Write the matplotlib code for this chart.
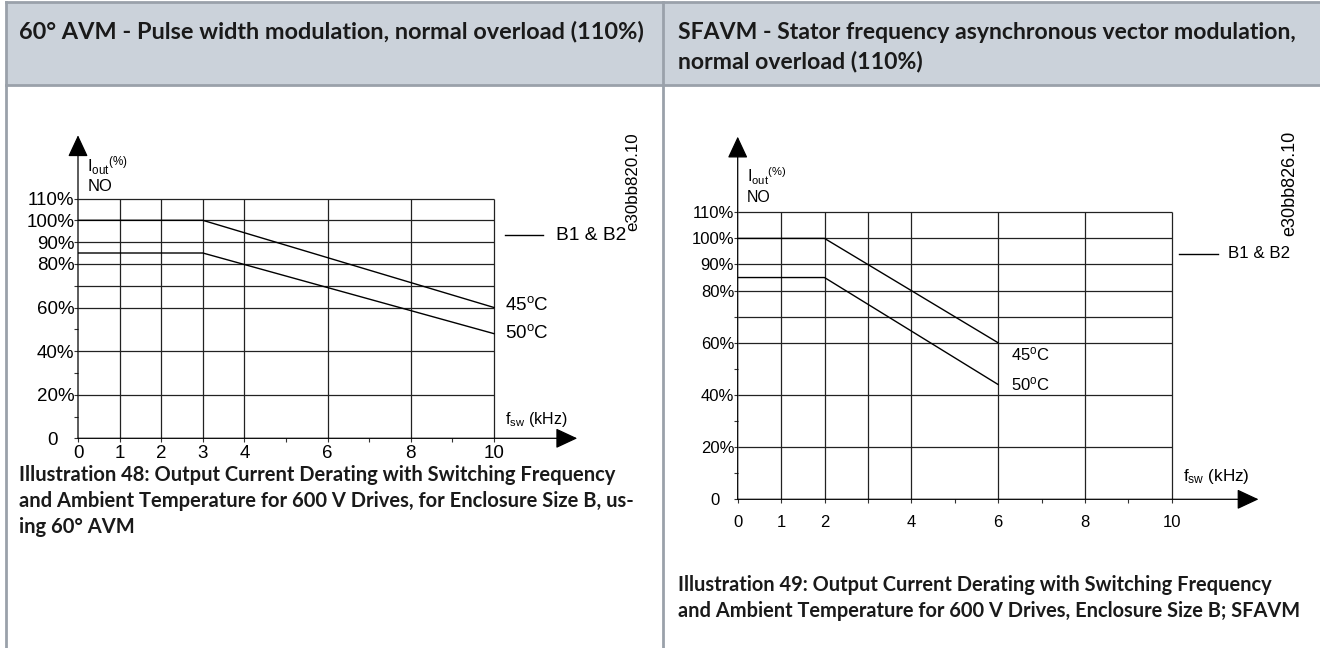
import matplotlib
matplotlib.use('Agg')
import matplotlib.pyplot as plt
from matplotlib.patches import Rectangle

plt.rcParams['font.family'] = ['Liberation Sans', 'DejaVu Sans']
plt.rcParams['mathtext.fontset'] = 'custom'
plt.rcParams['mathtext.rm'] = 'Liberation Sans'
plt.rcParams['mathtext.it'] = 'Liberation Sans:italic'

# ---- data ----
freq_avm = [0, 3, 10]
iout_45_avm = [100, 100, 60]
iout_50_avm = [85, 85, 48]

freq_sfavm = [0, 2, 6]
iout_45_sfavm = [100, 100, 60]
iout_50_sfavm = [85, 85, 44]

ytick_vals = [0, 20, 40, 60, 80, 90, 100, 110]
ytick_labels = ['0   ', '20%', '40%', '60%', '80%', '90%', '100%', '110%']
grid_y = [20, 40, 60, 70, 80, 90, 100, 110]
minor_y = [10, 30, 50, 70]
grid_x = [1, 2, 3, 4, 6, 8, 10]
xticks_avm = [0, 1, 2, 3, 4, 6, 8, 10]
minor_x_avm = [5, 7, 9]
xticks_sfavm = [0, 1, 2, 4, 6, 8, 10]
minor_x_sfavm = [3, 5, 7, 9]

headers = ['60° AVM - Pulse width modulation, normal overload (110%)',
           'SFAVM - Stator frequency asynchronous vector modulation,\nnormal overload (110%)']
captions = ['Illustration 48: Output Current Derating with Switching Frequency\n'
            'and Ambient Temperature for 600 V Drives, for Enclosure Size B, us-\n'
            'ing 60° AVM',
            'Illustration 49: Output Current Derating with Switching Frequency\n'
            'and Ambient Temperature for 600 V Drives, Enclosure Size B; SFAVM']
codes = ['e30bb820.10', 'e30bb826.10']

W, H = 1320, 648
fig = plt.figure(figsize=(W / 100, H / 100), dpi=100)

# background "page" axes in pixel coordinates
bg = fig.add_axes([0, 0, 1, 1])
bg.set_xlim(0, W)
bg.set_ylim(H, 0)
bg.axis('off')
bg.add_patch(Rectangle((6, 2), W - 6, 83, facecolor='#cbd2da', edgecolor='none'))
bg.plot([6, W], [2, 2], color='#9aa1aa', lw=2)
bg.plot([6, W], [85, 85], color='#9aa1aa', lw=2)
bg.plot([6, 6], [2, H], color='#9aa1aa', lw=2)
bg.plot([663, 663], [2, H], color='#9aa1aa', lw=2)

hfont = dict(family=['Lato', 'DejaVu Sans'], weight='bold', color='#1a1a1a')
bg.text(19, 31, headers[0], fontsize=16.9, va='center', ha='left', **hfont)
bg.text(678, 47, headers[1], fontsize=16.6, va='center', ha='left', linespacing=1.4, **hfont)
bg.text(19, 501, captions[0], fontsize=14.5, va='center', ha='left', linespacing=1.37, **hfont)
bg.text(678, 598, captions[1], fontsize=14.4, va='center', ha='left', linespacing=1.37, **hfont)


def make_chart(origin, sx, sy, freq, i45, i50, xticks, minor_x, fs, fs_no, fs_fsw,
               lbl45, lbl50, fsw_y, xpad, base_i, base_no):
    x0, y0 = origin
    xmax, ymax = 12.3, 142
    ax = fig.add_axes([x0 / W, (H - y0) / H, xmax * sx / W, ymax * sy / H])
    ax.set_xlim(0, xmax)
    ax.set_ylim(0, ymax)
    for s in ax.spines.values():
        s.set_visible(False)
    ax.patch.set_alpha(0)

    # grid
    ax.hlines(grid_y, 0, 10, color='#222222', lw=0.9)
    ax.vlines(grid_x, 0, 110, color='#222222', lw=0.9)

    # axes with arrows
    arrow = dict(arrowstyle='-|>,head_length=0.9,head_width=0.42',
                 mutation_scale=15, color='black', lw=0.9, shrinkA=0, shrinkB=0)
    ax.annotate('', xy=(12, 0), xytext=(0, 0), annotation_clip=False, arrowprops=arrow)
    ax.annotate('', xy=(0, 139), xytext=(0, 0), annotation_clip=False, arrowprops=arrow)

    # curves
    ax.plot(freq, i45, color='black', lw=1.0)
    ax.plot(freq, i50, color='black', lw=1.0)

    ax.set_yticks(ytick_vals, ytick_labels, fontsize=fs)
    ax.set_yticks(minor_y, minor=True)
    ax.set_xticks(xticks, [str(v) for v in xticks], fontsize=fs)
    ax.set_xticks(minor_x, minor=True)
    ax.tick_params(axis='both', which='both', direction='out', length=3, width=0.8,
                   color='#333333')
    ax.tick_params(axis='y', pad=-0.5)
    ax.tick_params(axis='x', pad=xpad)

    ax.text(0.22, base_i, r'I$_{\mathregular{out}}$$^{\mathregular{(\%)}}$',
            fontsize=fs_no, va='baseline')
    ax.text(0.22, base_no, 'NO', fontsize=fs_no, va='baseline')
    ax.text(lbl45[0], lbl45[1], r'45$^{\mathregular{o}}$C', fontsize=fs, va='center')
    ax.text(lbl50[0], lbl50[1], r'50$^{\mathregular{o}}$C', fontsize=fs, va='center')
    ax.text(10.26, fsw_y, r'f$_{\mathregular{sw}}$ (kHz)', fontsize=fs_fsw, va='center')
    return ax


make_chart((78, 438.3), 41.6, 2.18, freq_avm, iout_45_avm, iout_50_avm,
           xticks_avm, minor_x_avm, 13.5, 12, 11.5, (10.26, 61), (10.26, 48.4), 8.4,
           2, 122.3, 113.6)
make_chart((737.7, 499.3), 43.4, 2.609, freq_sfavm, iout_45_sfavm, iout_50_sfavm,
           xticks_sfavm, minor_x_sfavm, 12, 11.5, 12.3, (6.29, 55.6), (6.29, 44), 8.7,
           8, 121.6, 113.8)

# legend stubs and drawing codes
bg.plot([505, 543], [235, 235], color='black', lw=1)
bg.text(556, 235, 'B1 & B2', fontsize=13.8, va='center')
bg.text(633, 182, codes[0], fontsize=12.2, rotation=90, va='center', ha='center')
bg.plot([1179, 1218], [254, 254], color='black', lw=1)
bg.text(1228, 254, 'B1 & B2', fontsize=12.2, va='center')
bg.text(1290, 183, codes[1], fontsize=13, rotation=90, va='center', ha='center')

fig.savefig('out.png', dpi=100)
